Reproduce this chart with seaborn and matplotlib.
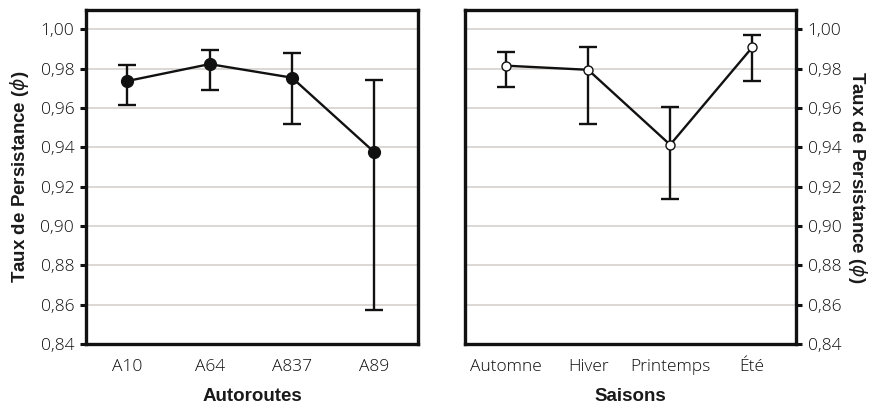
import numpy as np
import pandas as pd
import matplotlib
matplotlib.use("Agg")
import matplotlib.pyplot as plt
from matplotlib.ticker import FuncFormatter
import seaborn as sns

# Survival (persistence) estimates with confidence bounds
routes = ["A10", "A64", "A837", "A89"]
routes_est = [0.9737, 0.9823, 0.9754, 0.9375]
routes_lo = [0.9616, 0.9691, 0.9518, 0.8575]
routes_hi = [0.9818, 0.9895, 0.9878, 0.9740]

seasons = ["Automne", "Hiver", "Printemps", "Été"]
seasons_est = [0.9815, 0.9794, 0.9413, 0.9908]
seasons_lo = [0.9705, 0.9518, 0.9138, 0.9738]
seasons_hi = [0.9883, 0.9911, 0.9603, 0.9969]

y_ticks = [0.84, 0.86, 0.88, 0.90, 0.92, 0.94, 0.96, 0.98, 1.00]
y_label = r"Taux de Persistance ($\phi$)"

sns.set_theme(style="white")
plt.rcParams["font.family"] = ["Open Sans", "DejaVu Sans"]
plt.rcParams["font.weight"] = "light"
plt.rcParams["mathtext.fontset"] = "dejavusans"

fig = plt.figure(figsize=(8.7, 4.12), dpi=100)
ax_l = fig.add_axes([0.0989, 0.165, 0.3816, 0.8107])
ax_r = fig.add_axes([0.5345, 0.165, 0.3801, 0.8107])

comma = FuncFormatter(lambda v, _: f"{v:.2f}".replace(".", ","))
label_font = dict(family=["Liberation Sans", "DejaVu Sans"], weight="bold", size=13.5, color="#1a1a1a")


def panel(ax, cats, est, lo, hi, face, msize, xlabel, side):
    df = pd.DataFrame({"pos": np.arange(len(cats)), "cat": cats,
                       "est": est, "lo": lo, "hi": hi})
    ax.errorbar(df["pos"], df["est"],
                yerr=[df["est"] - df["lo"], df["hi"] - df["est"]],
                fmt="none", ecolor="#111111", elinewidth=1.7,
                capsize=6.5, capthick=1.7, zorder=2)
    sns.lineplot(data=df, x="pos", y="est", ax=ax, color="#111111",
                 linewidth=1.7, marker="o", markersize=msize,
                 markerfacecolor=face, markeredgecolor="#111111",
                 markeredgewidth=1.0, zorder=3)
    ax.set_xlim(-0.5, 3.53)
    ax.set_ylim(0.84, 1.0098)
    ax.set_xticks(df["pos"])
    ax.set_xticklabels(cats)
    ax.set_yticks(y_ticks)
    ax.yaxis.set_major_formatter(comma)
    ax.grid(axis="y", color="#d8d4d2", linewidth=1.3)
    ax.set_axisbelow(True)
    for s in ax.spines.values():
        s.set_color("#111111")
        s.set_linewidth(2.4)
    ax.tick_params(axis="both", direction="out", length=4.5, width=2.2,
                   color="#111111", labelsize=12.5, labelcolor="#0d0d0d", pad=4)
    ax.tick_params(axis="x", pad=6)
    ax.tick_params(axis="y", left=(side == "left"), right=(side == "right"),
                   labelleft=(side == "left"), labelright=(side == "right"))
    ax.set_xlabel(xlabel, labelpad=10, **label_font)
    if side == "left":
        ax.set_ylabel(y_label, labelpad=7, **label_font)
    else:
        ax.yaxis.set_label_position("right")
        ax.set_ylabel(y_label, rotation=-90, labelpad=20, **label_font)


panel(ax_l, routes, routes_est, routes_lo, routes_hi, "#111111", 8.5, "Autoroutes", "left")
panel(ax_r, seasons, seasons_est, seasons_lo, seasons_hi, "white", 6.5, "Saisons", "right")

fig.savefig("out.png", dpi=100, facecolor="white")
